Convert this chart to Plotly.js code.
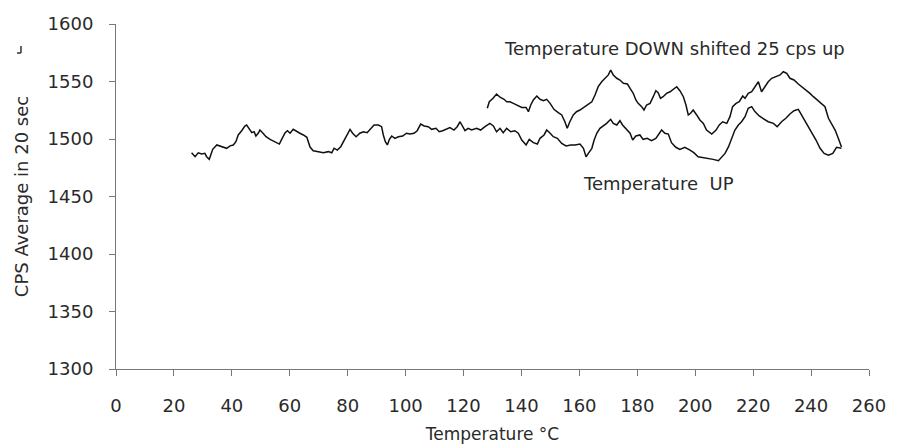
<!DOCTYPE html>
<html>
<head>
<meta charset="utf-8">
<script src="https://cdn.plot.ly/plotly-3.0.1.min.js"></script>
<style>html,body{margin:0;padding:0;background:#fff;}#chart{width:908px;height:444px;}</style>
</head>
<body>
<div id="chart"></div>
<script>
// Temperature UP run
const upTemp = [26.1,27.3,28.4,29.6,30.7,31.3,32.2,32.7,33.4,34.8,35.9,37.0,38.2,39.4,40.5,41.4,42.2,43.4,44.5,45.1,46.0,46.9,47.7,48.3,49.1,49.7,50.6,51.8,53.2,54.6,55.5,56.4,57.2,58.4,59.2,60.1,61.2,62.4,63.5,64.7,65.9,67.0,68.1,69.9,71.6,73.3,74.5,75.3,76.4,77.6,78.5,79.4,80.2,80.8,81.7,82.9,84.2,85.4,86.7,87.9,89.1,90.6,91.7,92.3,93.0,93.7,94.4,95.2,96.3,97.5,99.0,100.3,101.5,102.9,104.0,105.2,106.4,107.8,109.0,110.5,111.6,112.8,114.2,115.3,116.7,117.8,118.8,119.7,120.5,121.6,122.8,124.5,125.9,127.4,129.1,130.3,131.4,132.6,133.7,134.9,136.3,137.7,138.9,140.1,141.6,142.7,144.1,145.5,146.4,147.8,148.7,149.9,151.0,152.4,153.9,155.4,157.0,158.5,160.2,161.4,162.3,163.1,164.3,165.1,166.0,167.1,168.3,169.4,170.8,171.7,172.9,174.0,174.9,176.3,177.5,178.4,179.5,180.9,182.0,183.4,184.9,186.4,187.6,188.4,189.5,190.7,191.8,193.3,194.7,196.4,198.2,199.5,201.0,202.8,204.5,206.2,208.0,209.2,210.3,211.5,212.6,213.7,214.9,216.0,217.2,218.3,219.5,220.6,222.1,223.5,225.2,227.0,228.3,229.8,231.3,232.7,234.1,235.6,237.1,238.5,240.2,241.7,243.1,244.5,246.0,247.5,248.8,250.5];
const upCps = [1488,1484.6,1488,1487,1487.5,1484.6,1482.3,1486,1491,1494.8,1494,1493.3,1491.9,1494,1494.8,1497.7,1503.5,1507.2,1511.3,1512.2,1508.4,1505.5,1506.3,1502.6,1505,1507.8,1505.5,1502,1499.7,1497.7,1496.8,1495.6,1499.7,1505.5,1507.2,1505,1508.4,1506.3,1505,1503.5,1501.5,1493,1489.8,1489,1488,1489,1488,1492,1490.4,1493.3,1497.7,1502.6,1506.3,1508.4,1505,1502,1505,1506.3,1505.5,1508.4,1512.2,1512.2,1510.7,1503.5,1497.7,1494.8,1499.7,1502.6,1500.6,1502,1502.6,1505,1504.3,1505,1507.2,1513,1511.3,1510.7,1508.4,1509.3,1506.3,1507.2,1508.4,1510,1507.8,1510.7,1515,1511.3,1507.2,1509.3,1507.8,1509.3,1507.8,1510.7,1513.6,1511.3,1506.3,1509.3,1505.5,1509.3,1506.3,1507.2,1505,1499.1,1494.8,1499.7,1496.8,1495.6,1500.6,1503.5,1507.8,1505,1502,1500.6,1496.2,1494,1494.8,1494.8,1495.6,1491.9,1484.6,1487.5,1491.9,1499.1,1505,1509.3,1511.3,1513.6,1517.1,1513.6,1512.2,1515.9,1512.2,1507.8,1505,1499.1,1502.6,1503.5,1499.7,1500.6,1498.6,1500.6,1505,1507.8,1505,1504.3,1496.8,1492.8,1491,1492.8,1490.4,1488.1,1484.6,1484,1483.2,1482.3,1481.1,1484.6,1487.5,1493.3,1500.6,1507.8,1512.2,1515,1519.4,1526.7,1528.1,1523.8,1520,1518,1515,1513.6,1510.7,1515,1518,1521.7,1524.6,1525.8,1519.4,1513.6,1506.3,1499.1,1491.9,1487.5,1486,1487.5,1492.8,1492];

// Temperature DOWN run, shifted 25 cps up
const downTemp = [128.2,128.9,130.2,131.4,132.6,134.0,134.9,136.0,137.2,138.5,140.1,141.6,142.4,143.2,144.1,145.3,146.4,147.6,148.7,149.9,151.2,152.7,153.9,155.0,155.8,156.7,157.9,159.0,160.2,161.9,163.1,164.3,165.4,166.5,167.7,168.8,170.0,170.8,171.7,172.9,174.0,175.2,176.6,177.5,178.6,179.5,180.3,181.5,182.3,183.2,184.4,185.5,186.4,187.2,188.0,188.9,190.1,191.3,192.4,193.6,194.7,195.9,196.8,197.6,198.4,199.3,200.5,201.6,202.8,203.9,205.7,207.2,208.3,209.5,210.9,212.0,212.9,214.1,215.2,216.4,217.2,218.3,219.5,220.6,221.8,222.9,224.1,225.2,226.4,227.9,229.3,230.4,231.6,232.7,234.1,235.6,236.8,238.2,239.6,240.8,242.1,243.7,244.8,246.0,247.1,248.3,249.4,250.5];
const downCps = [1526.7,1532.4,1535.4,1539.1,1536.3,1534.5,1532.4,1532.4,1531,1529.6,1527.5,1527.5,1523.7,1529.6,1533.9,1537.4,1534.5,1533.3,1534.5,1531,1525.8,1522.9,1520.9,1515,1509.3,1515,1520.9,1523.7,1525.2,1528.1,1530.4,1532.4,1538.3,1545.5,1549.8,1552.8,1555.7,1560,1555.7,1552.8,1551.3,1548.4,1547.8,1544.1,1539.7,1533.9,1531,1528.1,1525.2,1529.6,1531,1536.8,1542,1540.3,1535.4,1536.8,1539.7,1541.1,1543.2,1545.5,1542,1536.8,1529.6,1520.9,1522.4,1525.2,1520.9,1516.5,1513.6,1507.8,1504.3,1507.8,1512.2,1515,1513.6,1519.4,1528.1,1531,1532.4,1537.4,1535.4,1539.7,1541.1,1545.5,1549.8,1541.1,1545.5,1549.8,1552.8,1554.2,1555.7,1558.5,1557.1,1552.8,1551.3,1547.8,1545.5,1542.6,1539.7,1536.8,1533.9,1531,1528.1,1518,1513.6,1507.8,1500.6,1493];

const xTicks = [0,20,40,60,80,100,120,140,160,180,200,220,240,260];
const yTicks = [1300,1350,1400,1450,1500,1550,1600];
const labelDown = "Temperature DOWN shifted 25 cps up";
const labelUp = "Temperature  UP";
const xTitle = "Temperature °C";
const yTitle = "CPS Average in 20 sec";

const FONT = "DejaVu Sans, Liberation Sans, Arial, sans-serif";
const TXT = "#2a2a2a";
const FS = 18;

const traces = [
  {x: upTemp, y: upCps, mode: "lines", line: {color: "#111", width: 1.5}, hoverinfo: "skip"},
  {x: downTemp, y: downCps, mode: "lines", line: {color: "#111", width: 1.5}, hoverinfo: "skip"}
];

const layout = {
  width: 908, height: 444,
  margin: {l: 116, r: 39, t: 24, b: 75, pad: 0},
  paper_bgcolor: "#fff", plot_bgcolor: "#fff",
  showlegend: false,
  font: {family: FONT, size: FS, color: TXT},
  xaxis: {
    range: [0, 260], tickvals: xTicks, ticktext: xTicks.map(String),
    showgrid: false, zeroline: false, showline: true, linecolor: "#777", linewidth: 1,
    ticks: "outside", ticklen: 6, tickcolor: "#777", tickwidth: 1,
    ticklabelstandoff: 14,
    tickfont: {family: FONT, size: FS, color: TXT},
    title: {text: xTitle, font: {family: FONT, size: 17, color: TXT}, standoff: 14},
    fixedrange: true
  },
  yaxis: {
    range: [1300, 1600], tickvals: yTicks, ticktext: yTicks.map(String),
    showgrid: false, zeroline: false, showline: true, linecolor: "#777", linewidth: 1,
    ticks: "outside", ticklen: 6, tickcolor: "#777", tickwidth: 1,
    ticklabelstandoff: 12,
    tickfont: {family: FONT, size: FS, color: TXT},
    title: {text: yTitle, font: {family: FONT, size: FS, color: TXT}, standoff: 14},
    fixedrange: true
  },
  annotations: [
    {x: 193, y: 1578.3, xref: "x", yref: "y", text: labelDown, showarrow: false,
     font: {family: FONT, size: FS, color: TXT}},
    {x: 187.2, y: 1461.7, xref: "x", yref: "y", text: labelUp, showarrow: false,
     font: {family: FONT, size: FS, color: TXT}}
  ],
  shapes: [
    {type: "line", xref: "paper", yref: "paper", x0: -0.1262, x1: -0.1262, y0: 0.9362, y1: 0.9159, line: {color: "#333", width: 1.5}},
    {type: "line", xref: "paper", yref: "paper", x0: -0.1315, x1: -0.1262, y0: 0.9159, y1: 0.9159, line: {color: "#333", width: 1.5}}
  ]
};

Plotly.newPlot("chart", traces, layout, {displayModeBar: false, staticPlot: true});
</script>
</body>
</html>
